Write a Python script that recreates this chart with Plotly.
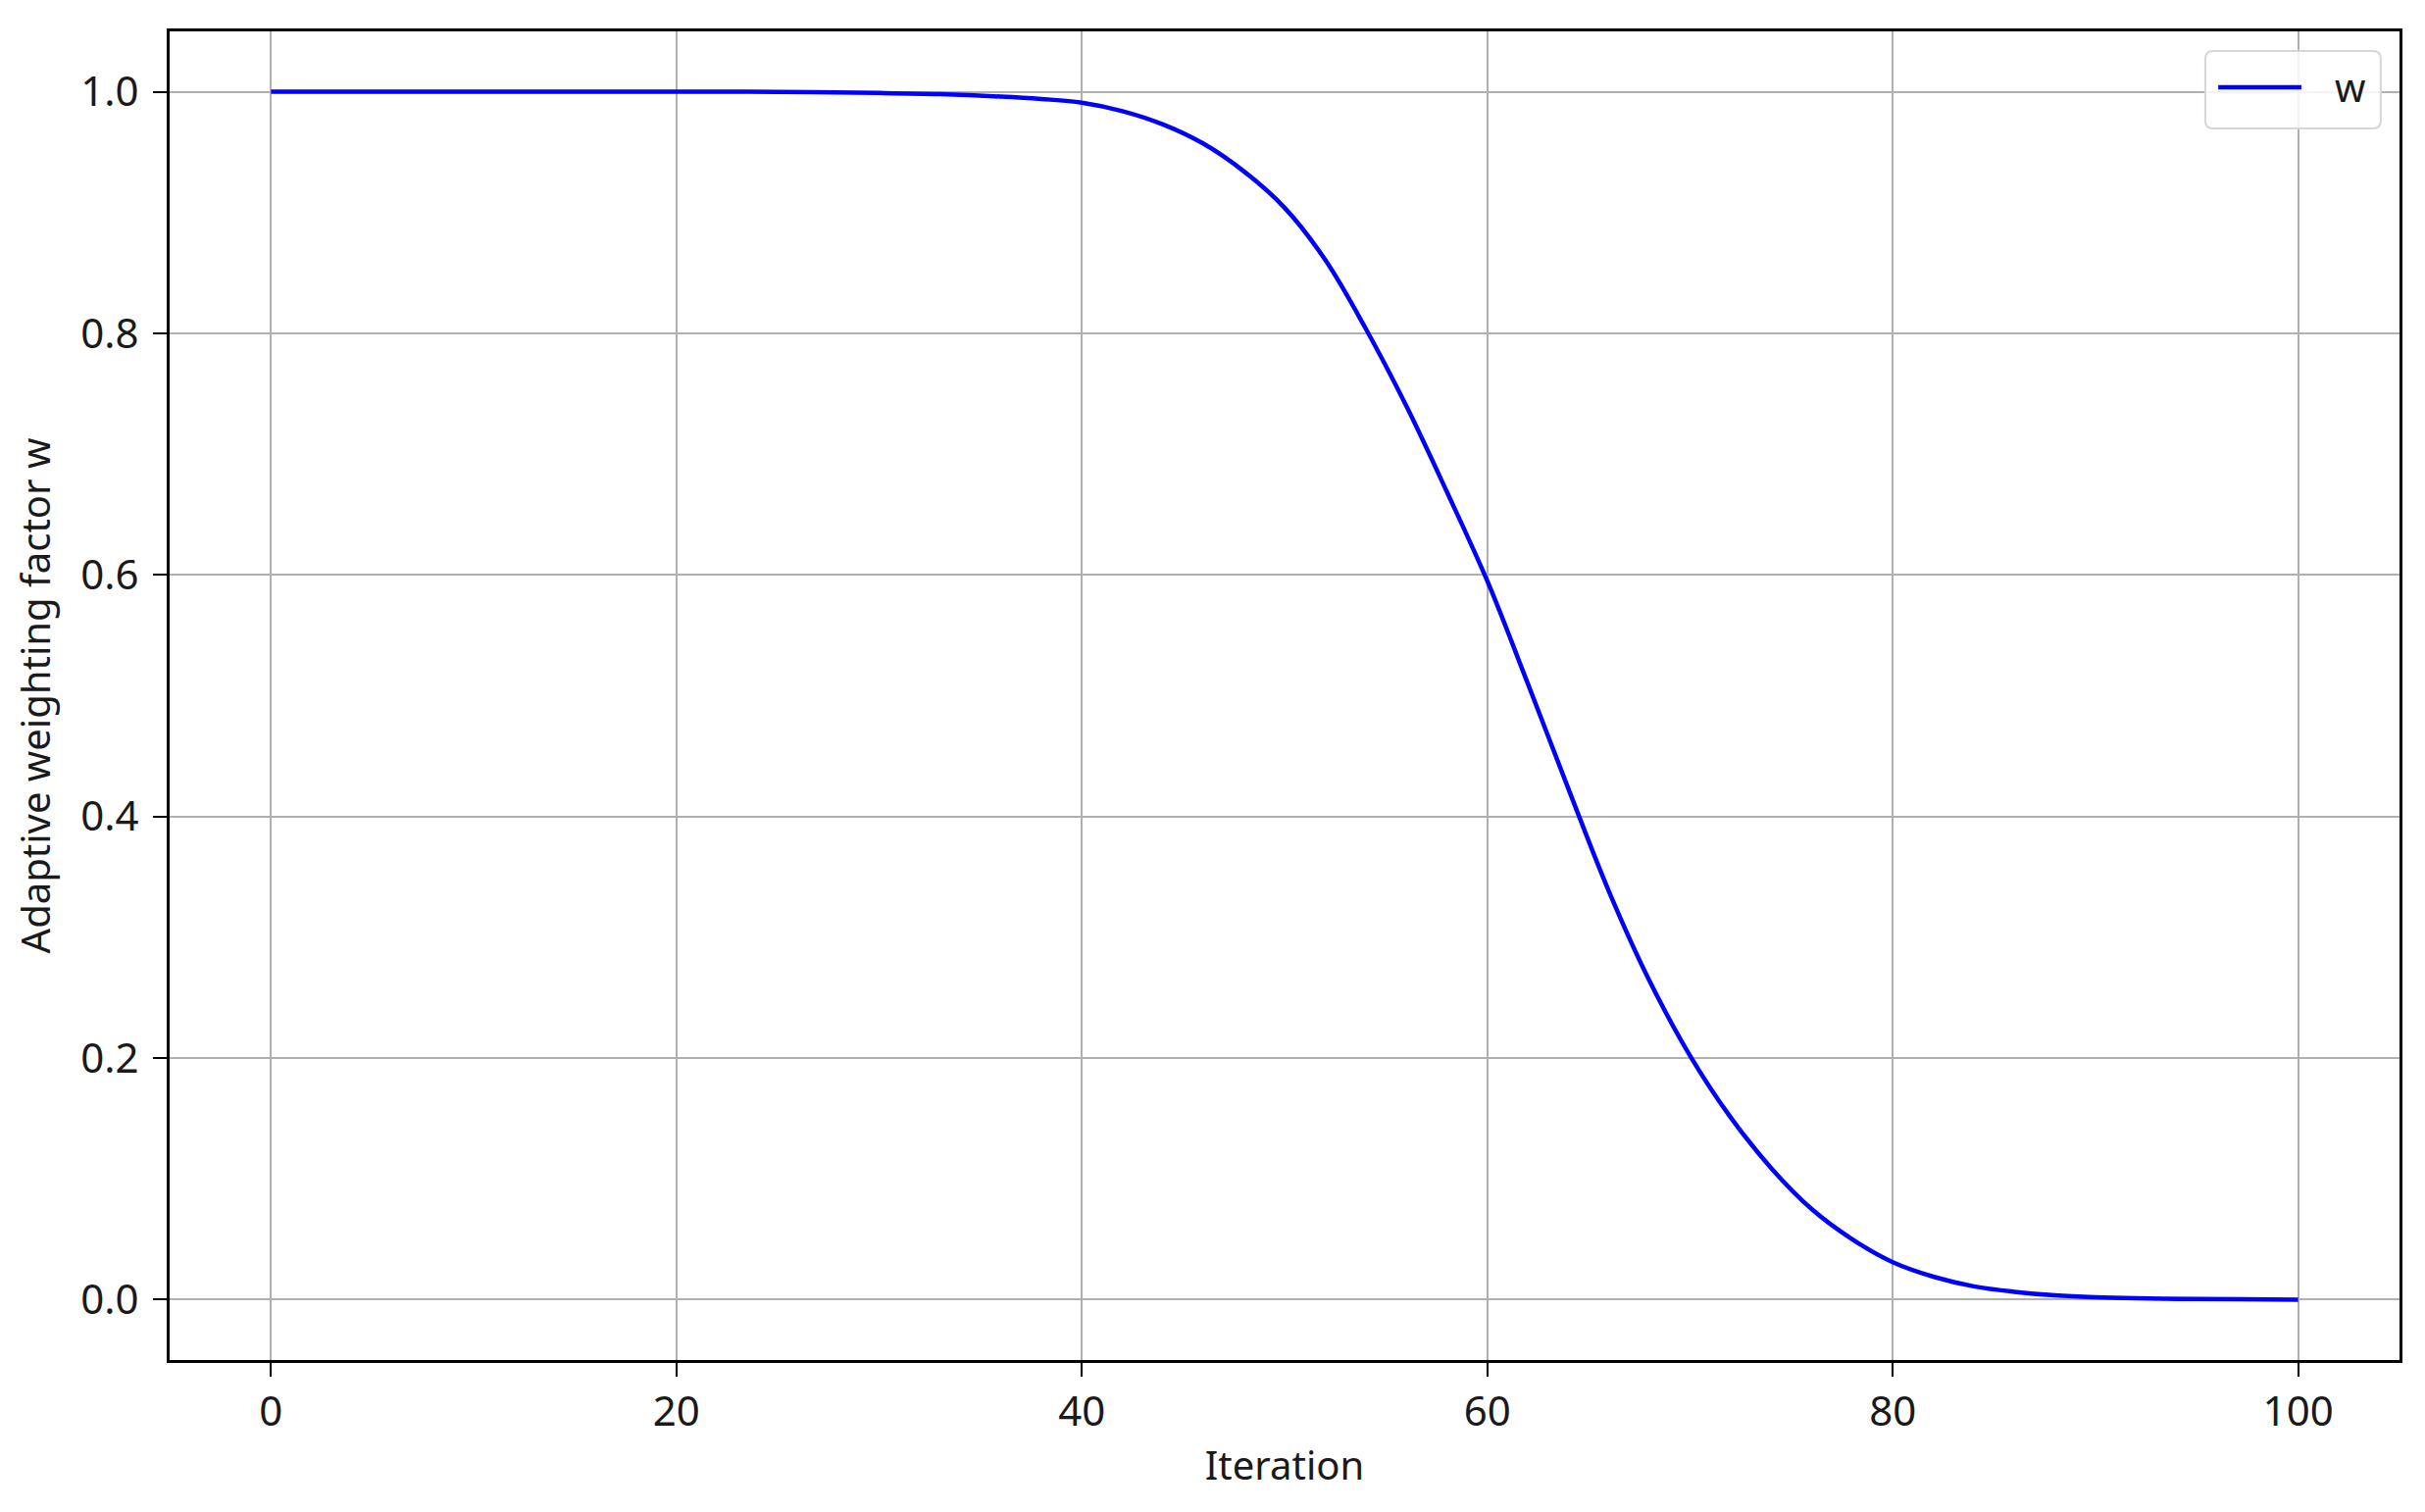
import plotly.graph_objects as go

# -----------------------------------------------------
# DATA
# -----------------------------------------------------

iterations = [
    0, 10, 20, 25, 30, 33, 36, 38, 40, 42, 44, 46, 48, 50,
    52, 54, 56, 58, 60, 62, 64, 66, 68, 70, 72, 74, 76, 78,
    80, 82, 84, 86, 88, 90, 95, 100
]

w_values = [
    1.0, 1.0, 1.0, 0.9999, 0.999, 0.998, 0.996, 0.994, 0.991, 0.984,
    0.973, 0.957, 0.934, 0.904, 0.861, 0.804, 0.740, 0.669, 0.595,
    0.510, 0.423, 0.338, 0.264, 0.202, 0.151, 0.109, 0.075, 0.050,
    0.031, 0.019, 0.011, 0.0065, 0.0035, 0.002, 0.0005, 0.0
]

x_ticks = [0, 20, 40, 60, 80, 100]
y_ticks = [0.0, 0.2, 0.4, 0.6, 0.8, 1.0]

series_name = "w"
x_title = "Iteration"
y_title = "Adaptive weighting factor w"

FONT = "Noto Sans, Open Sans, sans-serif"
TEXT = "#1a1a1a"

# -----------------------------------------------------
# FIGURE
# -----------------------------------------------------

fig = go.Figure()

fig.add_trace(
    go.Scatter(
        x=iterations,
        y=w_values,
        mode="lines",
        name=series_name,
        line=dict(color="#0000ff", width=4.5, shape="spline", smoothing=1.0),
        showlegend=False
    )
)

axis_common = dict(
    showline=True,
    linecolor="black",
    linewidth=3,
    mirror=True,
    showgrid=True,
    gridcolor="#b0b0b0",
    gridwidth=2,
    zeroline=False,
    ticks="outside",
    ticklen=14,
    tickwidth=2,
    tickcolor="black",
    tickfont=dict(family=FONT, size=42, color=TEXT),
)

fig.update_xaxes(
    range=[-5, 105],
    tickvals=x_ticks,
    title=dict(text=x_title, font=dict(family=FONT, size=40, color=TEXT), standoff=16),
    **axis_common
)

fig.update_yaxes(
    range=[-0.05, 1.05],
    tickvals=y_ticks,
    tickformat=".1f",
    ticklabelstandoff=6,
    title=dict(text=y_title, font=dict(family=FONT, size=40, color=TEXT), standoff=22),
    **axis_common
)

# legend box drawn like the matplotlib one (long line sample, rounded frame)
lx0, lx1, ly0, ly1 = 0.9129, 0.9916, 0.9269, 0.9852
rx, ry = 0.0035, 0.0059
legend_path = (
    f"M{lx0 + rx},{ly0} L{lx1 - rx},{ly0} Q{lx1},{ly0} {lx1},{ly0 + ry} "
    f"L{lx1},{ly1 - ry} Q{lx1},{ly1} {lx1 - rx},{ly1} "
    f"L{lx0 + rx},{ly1} Q{lx0},{ly1} {lx0},{ly1 - ry} "
    f"L{lx0},{ly0 + ry} Q{lx0},{ly0} {lx0 + rx},{ly0} Z"
)

fig.add_shape(
    type="path",
    path=legend_path,
    xref="paper",
    yref="paper",
    line=dict(color="#d6d6d6", width=2),
    fillcolor="rgba(255,255,255,0.85)",
    layer="above"
)

fig.add_shape(
    type="line",
    x0=0.9187, x1=0.9560, y0=0.958, y1=0.958,
    xref="paper",
    yref="paper",
    line=dict(color="#0000ff", width=4.5),
    layer="above"
)

fig.add_annotation(
    x=0.9776,
    y=0.958,
    xref="paper",
    yref="paper",
    text=series_name,
    showarrow=False,
    font=dict(family=FONT, size=40, color=TEXT),
    xanchor="center",
    yanchor="middle"
)

# page body adds an 8px offset, so margins are shifted to compensate
fig.update_layout(
    width=2473,
    height=1542,
    margin=dict(l=165, r=34, t=24, b=163),
    plot_bgcolor="white",
    paper_bgcolor="white",
    font=dict(family=FONT, size=40, color=TEXT),
    showlegend=False
)

fig.write_html("out.html")
